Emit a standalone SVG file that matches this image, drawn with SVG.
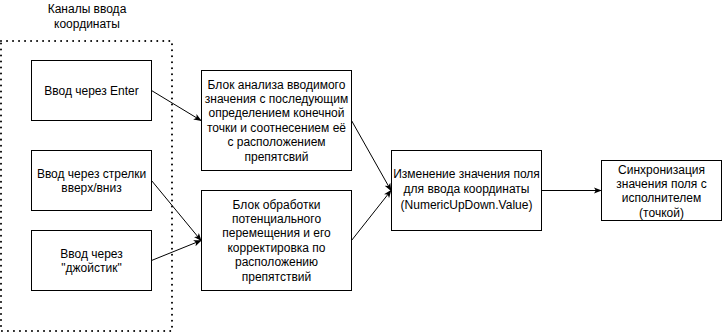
<svg xmlns="http://www.w3.org/2000/svg" width="722" height="332" viewBox="0 0 722 332">
  <defs>
    <style>
      .box { fill: #ffffff; stroke: #000000; stroke-width: 1; }
      .group { fill: none; stroke: #000000; stroke-width: 2; stroke-dasharray: 0.01 6; stroke-linecap: round; }
      .lbl { font-family: "Liberation Sans", Arial, sans-serif; font-size: 12px; fill: #000000; text-anchor: middle; }
      .edge { fill: none; stroke: #000000; stroke-width: 1; }
    </style>
    <marker id="arrow" viewBox="0 0 10 10" refX="9" refY="5" markerWidth="8" markerHeight="8" markerUnits="userSpaceOnUse" orient="auto">
      <path d="M0,1 L10,5 L0,9 L2.5,5 Z" fill="#000000"/>
    </marker>
  </defs>

  <rect x="0" y="0" width="722" height="332" fill="#ffffff"/>

  <!-- input channels container -->
  <g id="channels">
    <rect class="group" x="1" y="41" width="171" height="290"/>
    <text class="lbl" x="87" y="13">Каналы ввода</text>
    <text class="lbl" x="87" y="27.5">координаты</text>
  </g>

  <g id="input-enter">
    <rect class="box" x="31.5" y="60.5" width="120" height="60"/>
    <text class="lbl" x="91.5" y="94.5">Ввод через Enter</text>
  </g>

  <g id="input-arrows">
    <rect class="box" x="31.5" y="150.5" width="120" height="60"/>
    <text class="lbl" x="91.5" y="178">Ввод через стрелки</text>
    <text class="lbl" x="91.5" y="192.4">вверх/вниз</text>
  </g>

  <g id="input-joystick">
    <rect class="box" x="31.5" y="230.5" width="120" height="60"/>
    <text class="lbl" x="91.5" y="258">Ввод через</text>
    <text class="lbl" x="91.5" y="272.4">"джойстик"</text>
  </g>

  <g id="analysis">
    <rect class="box" x="201.5" y="70.5" width="150" height="100"/>
    <text class="lbl" x="276.5" y="88.5">Блок анализа вводимого</text>
    <text class="lbl" x="276.5" y="102.9">значения с последующим</text>
    <text class="lbl" x="276.5" y="117.3">определением конечной</text>
    <text class="lbl" x="276.5" y="131.7">точки и соотнесением её</text>
    <text class="lbl" x="276.5" y="146.1">с расположением</text>
    <text class="lbl" x="276.5" y="160.5">препятсвий</text>
  </g>

  <g id="movement">
    <rect class="box" x="201.5" y="190.5" width="150" height="100"/>
    <text class="lbl" x="276.5" y="208.5">Блок обработки</text>
    <text class="lbl" x="276.5" y="222.9">потенциального</text>
    <text class="lbl" x="276.5" y="237.3">перемещения и его</text>
    <text class="lbl" x="276.5" y="251.7">корректировка по</text>
    <text class="lbl" x="276.5" y="266.1">расположению</text>
    <text class="lbl" x="276.5" y="280.5">препятствий</text>
  </g>

  <g id="field-change">
    <rect class="box" x="391.5" y="150.5" width="150" height="80"/>
    <text class="lbl" x="466.5" y="178">Изменение значения поля</text>
    <text class="lbl" x="466.5" y="193.4">для ввода координаты</text>
    <text class="lbl" x="466.5" y="208.8">(NumericUpDown.Value)</text>
  </g>

  <g id="sync">
    <rect class="box" x="601.5" y="160.5" width="120" height="60"/>
    <text class="lbl" x="661.5" y="173.5">Синхронизация</text>
    <text class="lbl" x="661.5" y="187.9">значения поля с</text>
    <text class="lbl" x="661.5" y="202.3">исполнителем</text>
    <text class="lbl" x="661.5" y="216.7">(точкой)</text>
  </g>

  <g id="connectors">
    <line class="edge" x1="151.5" y1="90.5" x2="201" y2="120.5" marker-end="url(#arrow)"/>
    <line class="edge" x1="151.5" y1="180.5" x2="201" y2="240.5" marker-end="url(#arrow)"/>
    <line class="edge" x1="151.5" y1="260.5" x2="201" y2="240.5" marker-end="url(#arrow)"/>
    <line class="edge" x1="351.5" y1="120.5" x2="391" y2="190.5" marker-end="url(#arrow)"/>
    <line class="edge" x1="351.5" y1="240.5" x2="391" y2="190.5" marker-end="url(#arrow)"/>
    <line class="edge" x1="541.5" y1="190.5" x2="601" y2="190.5" marker-end="url(#arrow)"/>
  </g>
</svg>
